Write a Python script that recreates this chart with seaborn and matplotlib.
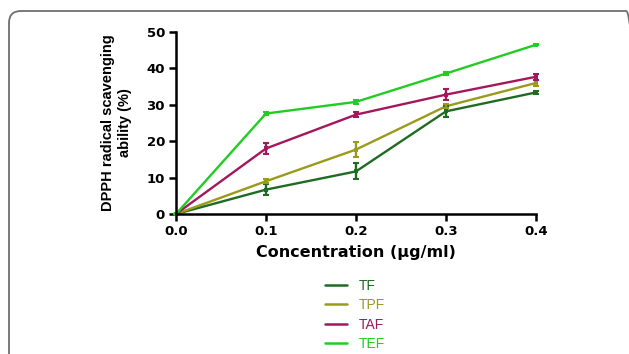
import matplotlib
matplotlib.use("Agg")
import matplotlib.pyplot as plt
import seaborn as sns
import pandas as pd
from matplotlib.patches import FancyBboxPatch
from matplotlib.lines import Line2D

conc = [0.0, 0.1, 0.2, 0.3, 0.4]
series_names = ["TF", "TPF", "TAF", "TEF"]
tf_mean = [0.0, 6.7, 11.7, 28.2, 33.4]
tf_err = [0.0, 1.5, 2.2, 1.6, 0.3]
tpf_mean = [0.0, 9.0, 17.7, 29.6, 36.0]
tpf_err = [0.0, 0.5, 2.0, 0.6, 0.7]
taf_mean = [0.0, 18.0, 27.3, 32.8, 37.7]
taf_err = [0.0, 1.6, 0.6, 1.5, 0.8]
tef_mean = [0.0, 27.6, 30.8, 38.6, 46.5]
tef_err = [0.0, 0.3, 0.6, 0.3, 0.1]
colors = ["#1f6b22", "#9a9a1c", "#a3175c", "#22cc22"]

means = [tf_mean, tpf_mean, taf_mean, tef_mean]
errs = [tf_err, tpf_err, taf_err, tef_err]

rows = []
for name, m, e in zip(series_names, means, errs):
    for x, y, s in zip(conc, m, e):
        rows.append({"conc": x, "value": y, "err": s, "series": name})
df = pd.DataFrame(rows)

sns.set_style("ticks")
plt.rcParams["font.family"] = ["Liberation Sans", "DejaVu Sans"]
plt.rcParams["text.color"] = "black"
plt.rcParams["axes.labelcolor"] = "black"

fig = plt.figure(figsize=(6.29, 3.54), dpi=100)
fig.patch.set_facecolor("white")

# rounded frame (right and bottom edges run off the figure)
frame = FancyBboxPatch((9 / 629, -0.3), (638 - 9) / 629, 1.3 - 11 / 354,
                       boxstyle="round,pad=0,rounding_size=0.019",
                       transform=fig.transFigure, fill=False,
                       edgecolor="#6e6e6e", linewidth=1.3, zorder=0,
                       mutation_aspect=629 / 354)
fig.patches.append(frame)

ax = fig.add_axes([176 / 629, 1 - 214 / 354, 360 / 629, 182 / 354])
palette = dict(zip(series_names, colors))
sns.lineplot(data=df, x="conc", y="value", hue="series", palette=palette,
             marker="s", markersize=3.5, markeredgewidth=0, linewidth=1.7,
             ax=ax, legend=False, clip_on=False, errorbar=None)
for name in series_names:
    sub = df[df["series"] == name]
    ax.errorbar(sub["conc"], sub["value"], yerr=sub["err"], fmt="none",
                ecolor=palette[name], elinewidth=1.7, capsize=2.5,
                capthick=1.5, clip_on=False)

ax.set_xlim(0, 0.4)
ax.set_ylim(0, 50)
ax.set_xticks([0.0, 0.1, 0.2, 0.3, 0.4])
ax.set_xticklabels(["0.0", "0.1", "0.2", "0.3", "0.4"])
ax.set_yticks([0, 10, 20, 30, 40, 50])
for side in ["top", "right"]:
    ax.spines[side].set_visible(False)
for side in ["left", "bottom"]:
    ax.spines[side].set_linewidth(1.8)
    ax.spines[side].set_color("black")
ax.tick_params(axis="both", direction="out", length=5, width=1.8,
               labelsize=9.5, pad=3, colors="black")
for lab in ax.get_xticklabels() + ax.get_yticklabels():
    lab.set_fontweight("bold")
    lab.set_family("DejaVu Sans")
ax.set_xlabel("Concentration (µg/ml)", fontsize=11.5, fontweight="bold",
              labelpad=5, family="DejaVu Sans", color="black")
ax.set_ylabel("DPPH radical scavenging\nability (%)", fontsize=10.5,
              fontweight="bold", labelpad=10, linespacing=1.3, color="black")

handles = [Line2D([0], [0], color=c, lw=1.8) for c in colors]
leg = fig.legend(handles, series_names, loc="upper center",
                 bbox_to_anchor=(355 / 629, 1 - 266 / 354), frameon=False,
                 fontsize=10, handlelength=1.6, handletextpad=0.9,
                 labelspacing=0.4)
for t, c in zip(leg.get_texts(), colors):
    t.set_color(c)

fig.savefig("out.png", dpi=100)
